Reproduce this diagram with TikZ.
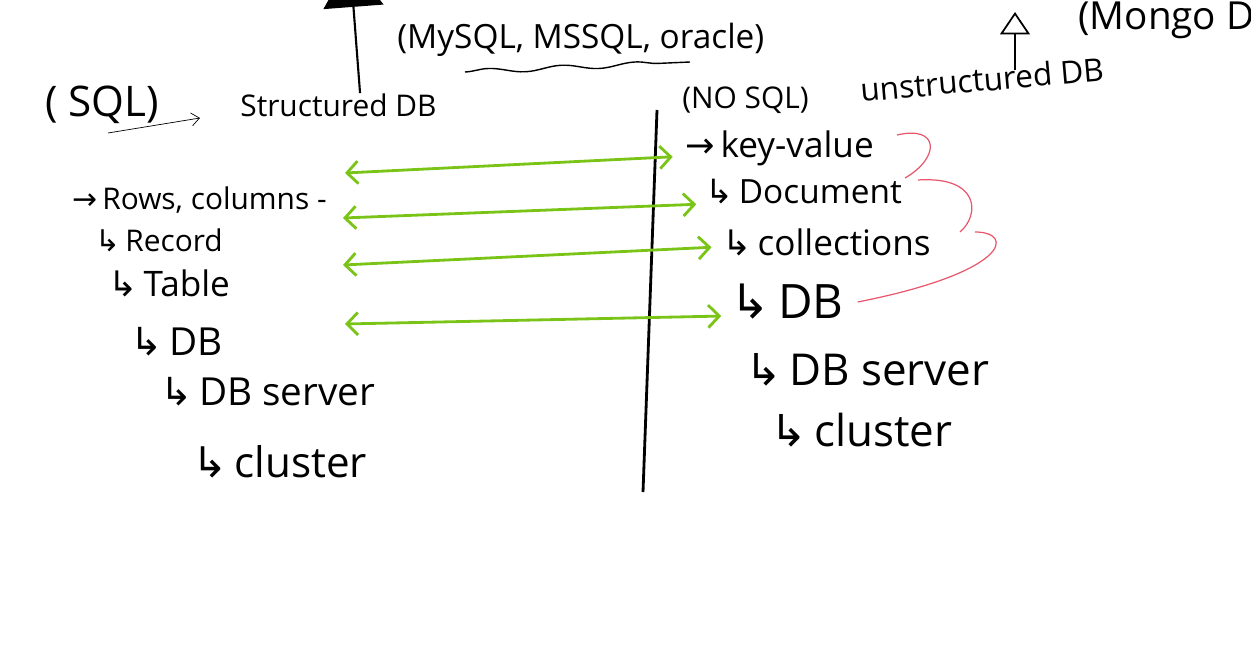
\documentclass[tikz,border=0pt]{standalone}
\usepackage{fontspec}
\setmainfont{Open Sans}
\newfontfamily\arrowfont{DejaVu Sans}
\usepackage{xcolor}
\definecolor{inkgreen}{RGB}{122,196,24}
\definecolor{inkred}{RGB}{232,88,108}
\usetikzlibrary{arrows.meta, positioning, calc, decorations.pathmorphing}
\newcommand{\hook}{{\arrowfont ↳}\,}
\newcommand{\toarr}{{\arrowfont →}\,}
\newcommand{\pts}[1]{\fontsize{#1}{#1}\selectfont}

\begin{document}
\begin{tikzpicture}[x=0.02cm, y=-0.02cm,
  hand/.style={font=\pts{17}, inner sep=0pt, anchor=west},
  big/.style={font=\pts{22}},
  link/.style={inkgreen, line width=1.6pt,
    {Straight Barb[length=2.2mm, width=4.5mm]}-{Straight Barb[length=2.2mm, width=4.5mm]}},
  brace/.style={inkred, line width=0.7pt}]
\useasboundingbox (0,0) rectangle (1251,651);

% === Top: labels ===
\node[hand, font=\pts{24}] (sql) at (45,105) {( SQL)};
\node[hand] (sdb) at (240,105) {Structured DB};
\node[hand, font=\pts{19}] (vendors) at (397,40) {(MySQL, MSSQL, oracle)};
\node[hand] (nosql) at (682,100) {(NO SQL)};
\node[hand, font=\pts{18}, rotate=5] (udb) at (860,90) {unstructured DB};
\node[hand, big] (mongo) at (1078,20) {(Mongo DB)};

% pointers above the headings
\coordinate (sqlto) at (200,118);
\draw[-{Straight Barb[length=1.6mm, width=2.6mm]}, thin] (108,133) -- (sqlto);
\coordinate (sdbtop) at (350,-38);
\draw[line width=1.2pt, -{Triangle[length=9mm, width=12mm]}] ($(sdb.north west)!0.61!(sdb.north east)$) -- (sdbtop);
\coordinate (udbtop) at (1015,12);
\draw[line width=1pt, -{Triangle[open, length=4.5mm, width=6mm]}] (1015,70) -- (udbtop);
\draw[decorate, decoration={snake, amplitude=1.4pt, segment length=42pt}, line width=0.8pt] (465,72) -- (690,62);

% === Divider ===
\draw[line width=1.6pt] (657,110) -- (643,492);

% === Left: SQL hierarchy ===
\node[hand] (rows) at (72,200) {\toarr Rows, columns -};
\node[hand] (record) at (95,240) {\hook Record};
\node[hand, font=\pts{20}] (table) at (108,283) {\hook Table};
\node[hand, big] (ldb) at (130,342) {\hook DB};
\node[hand, big] (lserver) at (160,392) {\hook DB server};
\node[hand, font=\pts{24}] (lcluster) at (192,462) {\hook cluster};

% === Right: NoSQL hierarchy ===
\node[hand, font=\pts{20}] (keyval) at (685,148) {\toarr key-value};
\node[hand, font=\pts{19}] (doc) at (705,192) {\hook Document};
\node[hand, font=\pts{20}] (coll) at (722,242) {\hook collections};
\node[hand, font=\pts{27}] (rdb) at (730,302) {\hook DB};
\node[hand, font=\pts{25}] (rserver) at (745,370) {\hook DB server};
\node[hand, font=\pts{25}] (rcluster) at (770,430) {\hook cluster};

% green links SQL <-> NoSQL
\coordinate (g1) at (345,173);
\coordinate (g2) at (343,218);
\coordinate (g3) at (343,265);
\coordinate (g4) at (345,324);
\draw[link] (g1) -- ([xshift=-7pt, yshift=-5pt]keyval.west);
\draw[link] (g2) -- ([xshift=-5pt, yshift=-7pt]doc.west);
\draw[link] (g3) -- ([xshift=-6pt, yshift=-3pt]coll.west);
\draw[link] (g4) -- ([xshift=-5pt, yshift=-8pt]rdb.west);

% red braces
\draw[brace] (897,135) .. controls (940,125) and (940,158) .. (905,178);
\draw[brace] (918,180) .. controls (980,176) and (980,215) .. (960,232);
\draw[brace] (975,232) .. controls (1015,232) and (1010,272) .. ([xshift=8pt]rdb.east);

\end{tikzpicture}
\end{document}
